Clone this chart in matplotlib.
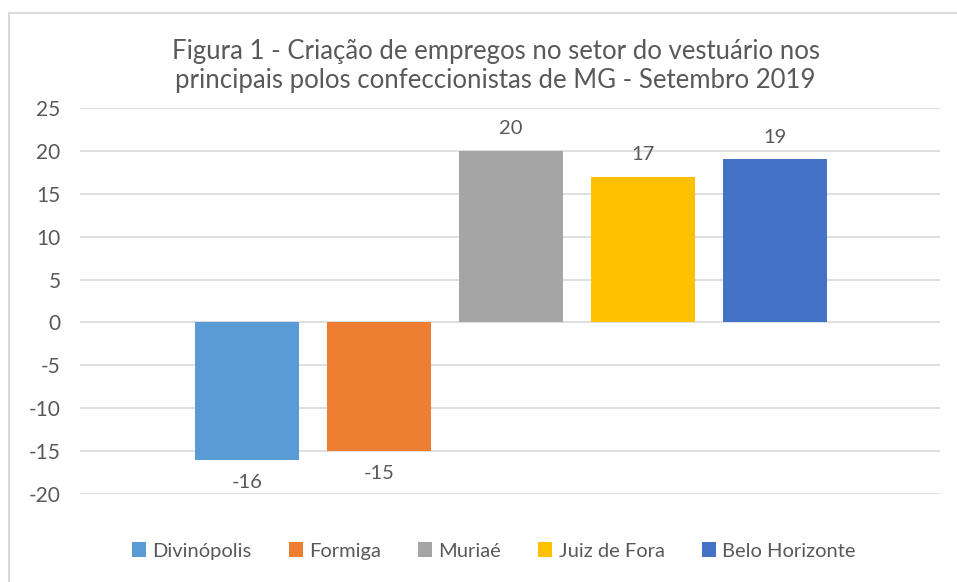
import matplotlib.pyplot as plt
from matplotlib.patches import Rectangle

plt.rcParams['font.family'] = ['Lato', 'DejaVu Sans']
plt.rcParams['axes.unicode_minus'] = False

cidades = ['Divinópolis', 'Formiga', 'Muriaé', 'Juiz de Fora', 'Belo Horizonte']
empregos = [-16, -15, 20, 17, 19]
cores = ['#5B9BD5', '#ED7D31', '#A5A5A5', '#FFC000', '#4472C4']
yticks = [-20, -15, -10, -5, 0, 5, 10, 15, 20, 25]

texto = '#595959'

fig = plt.figure(figsize=(9.57, 5.82), dpi=100)
ax = fig.add_axes([80/957, 1-494/582, 860/957, 386/582])

for i in range(len(cidades)):
    b = ax.bar(i, empregos[i], width=0.795, color=cores[i], label=cidades[i], zorder=3)
    ax.bar_label(b, padding=10, fontsize=14.5, color=texto)

ax.set_xlim(-1.265, 5.25)
ax.set_ylim(-20, 25)
ax.set_yticks(yticks)
ax.set_xticks([])
ax.grid(axis='y', color='#D9D9D9', linewidth=1.2, zorder=0)
for s in ax.spines.values():
    s.set_visible(False)
ax.tick_params(axis='y', length=0, pad=14, labelsize=15, labelcolor=texto)

fig.text(0.518, 1-66/582, 'Figura 1 - Criação de empregos no setor do vestuário nos\n'
         'principais polos confeccionistas de MG - Setembro 2019',
         ha='center', va='center', fontsize=18.5, color=texto, linespacing=1.2)

fig.legend(loc='center', bbox_to_anchor=(0.516, 1-551/582), ncol=5, frameon=False,
           fontsize=14.5, labelcolor=texto, handlelength=0.7, handleheight=0.7,
           handletextpad=0.3, columnspacing=1.85)

fig.patches.append(Rectangle((9/957, -0.1), 1.1, 0.1 + 1-13/582, transform=fig.transFigure,
                             fill=False, edgecolor='#D9D9D9', linewidth=1.5))

fig.savefig('out.png', dpi=100)
